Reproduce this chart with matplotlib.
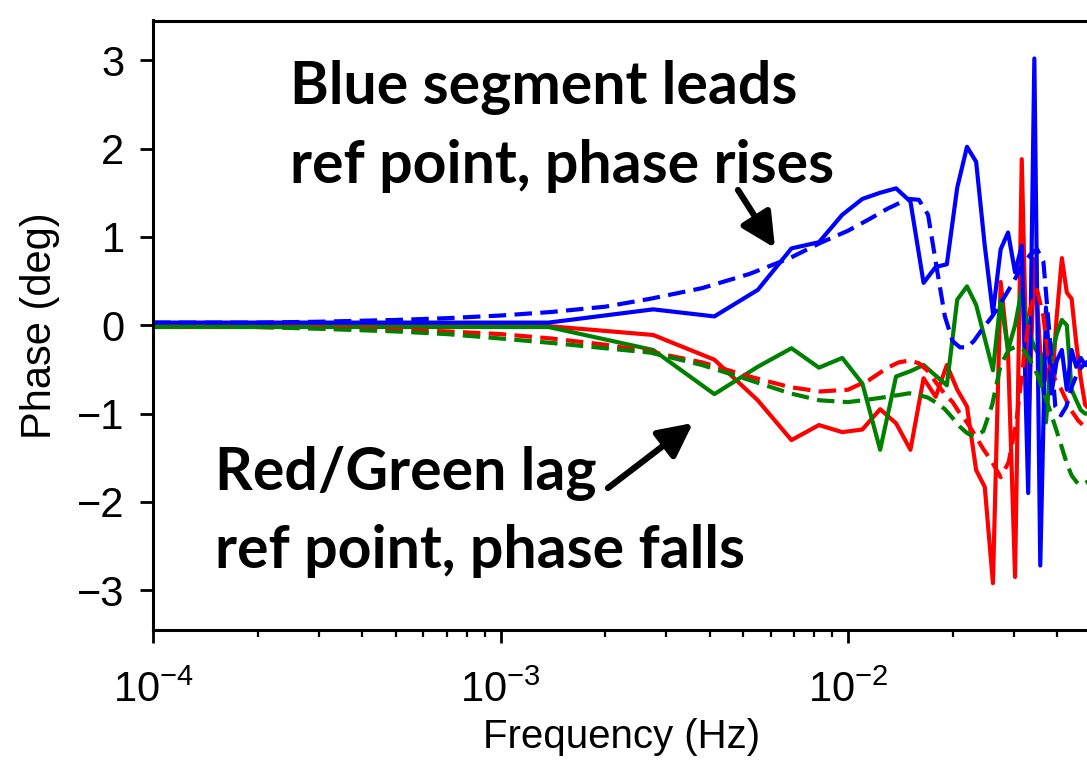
import numpy as np
import matplotlib
matplotlib.use('Agg')
import matplotlib.pyplot as plt

plt.rcParams['font.family'] = ['Liberation Sans', 'DejaVu Sans']
plt.rcParams['mathtext.fontset'] = 'custom'
plt.rcParams['mathtext.rm'] = 'Liberation Sans'
plt.rcParams['mathtext.it'] = 'Liberation Sans:italic'
plt.rcParams['mathtext.bf'] = 'Liberation Sans:bold'

# harmonic frequencies of the measured spectrum (mHz), first point pinned at 0.1 mHz
freq_mhz = [0.1, 1.375, 2.75, 4.125, 5.5, 6.875, 8.25, 9.625, 11.0, 12.375, 13.75,
            15.125, 16.5, 17.875, 19.25, 20.625, 22.0, 23.375, 24.75, 26.125, 27.5,
            28.875, 30.25, 31.625, 33.0, 34.375, 35.75, 37.125, 38.5, 39.875, 41.25,
            42.625, 44.0, 45.375, 46.75, 48.125, 49.5]

blue_meas = [0.03, 0.03, 0.18, 0.10, 0.40, 0.87, 0.94, 1.25, 1.43, 1.50, 1.55,
             1.40, 0.48, 0.66, 0.69, 1.56, 2.02, 1.85, 0.90, 0.14, 0.86,
             1.05, 0.60, 0.90, -1.90, 3.02, -2.72, 0.20, -0.77, -0.40, -0.28,
             -0.73, -0.28, -0.47, -0.37, -0.45, -0.45]
red_meas = [-0.01, -0.01, -0.11, -0.39, -0.85, -1.30, -1.13, -1.21, -1.18, -0.95, -1.11,
            -1.41, -0.60, -0.81, -0.45, -0.73, -0.92, -1.64, -1.83, -2.92, 0.49,
            -0.30, -2.85, 1.88, -1.20, 0.75, -0.30, -0.50, -0.77, 0.10, 0.76,
            0.37, 0.30, -0.20, -0.60, -0.90, -0.95]
green_meas = [-0.02, -0.02, -0.28, -0.78, -0.47, -0.26, -0.48, -0.37, -0.66, -1.41, -0.58,
              -0.52, -0.45, -0.57, -0.68, 0.29, 0.44, 0.23, -0.15, -0.51, 0.29,
              -0.28, 0.00, 0.40, -0.05, -0.25, -0.35, -1.10, -0.35, -0.10, 0.06,
              0.00, -0.73, -0.85, -0.96, -1.00, -1.00]

# model curves (dashed)
model_mhz = [0.1, 0.2, 0.3, 0.5, 0.7, 1.0, 1.4, 2.0, 2.7, 3.8, 5.2, 6.8, 8.3, 10.0,
             11.5, 13.0, 14.0, 15.0, 16.0, 17.0, 18.0, 19.0, 20.0, 21.0, 22.0, 23.0,
             24.5, 26.0, 27.5, 29.0, 30.5, 32.0, 33.5, 35.0, 36.5, 38.0, 39.5, 41.0,
             42.5, 44.0, 46.0, 48.0, 50.0]
blue_model = [0.03, 0.03, 0.04, 0.06, 0.08, 0.11, 0.15, 0.21, 0.30, 0.42, 0.58, 0.76, 0.93, 1.07,
              1.20, 1.32, 1.38, 1.43, 1.42, 1.25, 0.65, 0.10, -0.18, -0.25, -0.25, -0.18,
              -0.03, 0.10, 0.25, 0.40, 0.55, 0.71, 0.80, 0.86, 0.72, -0.10, -0.92, -1.02,
              -0.92, -0.70, -0.52, -0.43, -0.40]
red_model = [-0.01, -0.02, -0.03, -0.05, -0.07, -0.10, -0.15, -0.22, -0.30, -0.42, -0.58, -0.70, -0.75, -0.73,
             -0.62, -0.48, -0.42, -0.40, -0.43, -0.52, -0.66, -0.78, -0.87, -1.00, -1.10, -1.22,
             -1.40, -1.55, -1.72, -1.55, -1.10, -0.40, 0.20, 0.40, 0.10, -0.45, -0.62, -0.72,
             -0.85, -0.97, -1.08, -1.15, -1.20]
green_model = [-0.01, -0.02, -0.04, -0.07, -0.10, -0.15, -0.20, -0.26, -0.31, -0.45, -0.62, -0.77, -0.85, -0.87,
               -0.84, -0.81, -0.79, -0.77, -0.79, -0.82, -0.88, -0.95, -1.05, -1.15, -1.22, -1.26,
               -1.20, -0.90, -0.45, -0.28, -0.24, -0.28, -0.40, -0.55, -0.75, -0.95, -1.15, -1.35,
               -1.55, -1.70, -1.80, -1.79, -1.75]

fig = plt.figure(figsize=(10.87, 7.61), dpi=100)
ax = fig.add_axes([153 / 1087, 1 - 630 / 761, (1090 - 153) / 1087, (630 - 20.5) / 761])

f = np.array(freq_mhz) * 1e-3
fm = np.array(model_mhz) * 1e-3
lw = 3.0
ax.plot(f, red_meas, color='#ff0000', lw=lw)
ax.plot(f, green_meas, color='#008000', lw=lw)
ax.plot(f, blue_meas, color='#0000ff', lw=lw)
ax.plot(fm, red_model, color='#ff0000', lw=lw, dashes=(4.2, 2.0))
ax.plot(fm, green_model, color='#008000', lw=lw, dashes=(4.2, 2.0))
ax.plot(fm, blue_model, color='#0000ff', lw=lw, dashes=(4.2, 2.0))

ax.set_xscale('log')
ax.set_xlim(1e-4, 10 ** (-4 + (1090 - 153) / 347.5))
ax.set_ylim(-3.45, 3.45)
ax.set_yticks([-3, -2, -1, 0, 1, 2, 3])
for s in ax.spines.values():
    s.set_linewidth(2.2)
ax.tick_params(which='major', length=9.5, width=2.0, labelsize=30, pad=11)
ax.tick_params(axis='x', which='major', pad=20)
ax.tick_params(which='minor', length=5, width=1.6)
ax.set_xlabel('Frequency (Hz)', fontsize=29, labelpad=5)
ax.set_ylabel('Phase (deg)', fontsize=30, labelpad=12)

tfont = dict(family=['Lato', 'DejaVu Sans'], fontweight='bold', fontsize=42.5, color='k')
fig.text(290 / 1087, 1 - 104 / 761, 'Blue segment leads', va='baseline', **tfont)
fig.text(290 / 1087, 1 - 183 / 761, 'ref point, phase rises', va='baseline', **tfont)
fig.text(215 / 1087, 1 - 490 / 761, 'Red/Green lag', va='baseline', **tfont)
fig.text(215 / 1087, 1 - 568 / 761, 'ref point, phase falls', va='baseline', **tfont)

aprops = dict(arrowstyle='-|>,head_length=0.9,head_width=0.45', lw=4.5, color='k',
              mutation_scale=23, shrinkA=0, shrinkB=0)
ax.annotate('', xy=(775, 761 - 248), xytext=(738, 761 - 190),
            xycoords='figure pixels', textcoords='figure pixels', arrowprops=aprops)
ax.annotate('', xy=(693, 761 - 423), xytext=(608, 761 - 488),
            xycoords='figure pixels', textcoords='figure pixels', arrowprops=aprops)

plt.savefig('out.png', dpi=100)
